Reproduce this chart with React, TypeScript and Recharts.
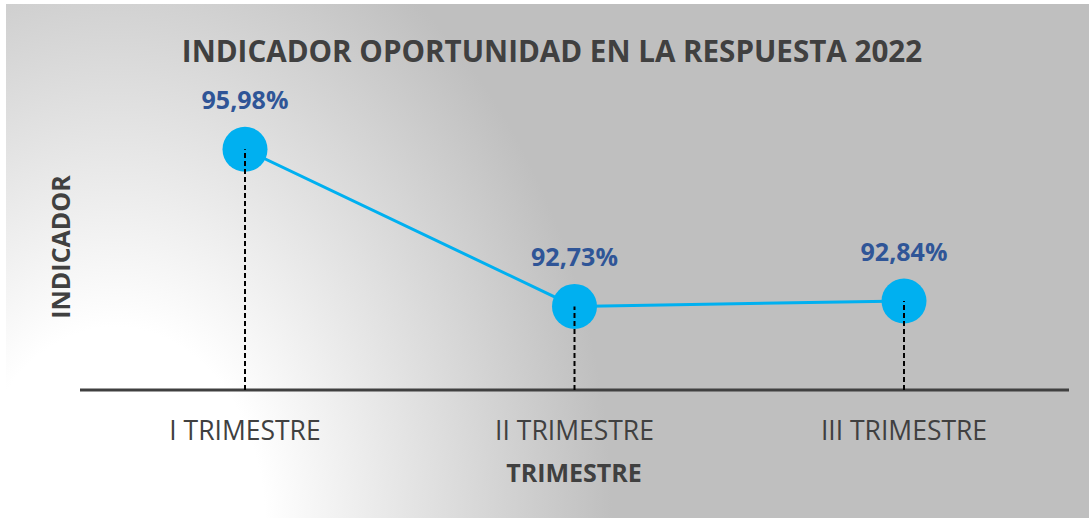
import React from "react";
import { LabelList, Line, LineChart, ReferenceLine, XAxis, YAxis } from "recharts";

const categories = ["I TRIMESTRE", "II TRIMESTRE", "III TRIMESTRE"];
const values = [95.98, 92.73, 92.84];
const valueLabels = ["95,98%", "92,73%", "92,84%"];
const yDomain = [91, 97];

const data = categories.map((name, i) => ({ name, value: values[i], label: valueLabels[i] }));

const FONT = "'Open Sans', 'Noto Sans', sans-serif";
const TEXT = "#404040";
const LINE = "#00B0F0";
const LABEL = "#2F5597";

function CategoryTick(props: any) {
  const { x, y, payload } = props;
  return (
    <text x={x} y={y + 32} textAnchor="middle" dominantBaseline="central" fill={TEXT} fontFamily={FONT} fontSize={26.5}>
      {payload.value}
    </text>
  );
}

export default function App() {
  return (
    <div style={{ position: "absolute", left: 0, top: 0, width: 1089, height: 518, background: "#fff" }}>
      <div
        style={{
          position: "absolute",
          left: 6,
          top: 4,
          width: 1083,
          height: 514,
          background:
            "radial-gradient(ellipse 620px 820px at 110px 520px, #ffffff 0%, #ffffff 24%, #bfbfbf 80%)",
        }}
      />
      <div style={{ position: "absolute", left: 0, top: 0 }}>
        <LineChart width={1089} height={518} data={data} margin={{ top: 100, right: 20, bottom: 98, left: 80 }}>
          <XAxis
            dataKey="name"
            height={30}
            axisLine={{ stroke: TEXT, strokeWidth: 3 }}
            tickLine={false}
            tick={<CategoryTick />}
            padding={{ left: 165, right: 165 }}
            interval={0}
          />
          <YAxis hide domain={yDomain} width={0} />
          <Line
            dataKey="value"
            stroke={LINE}
            strokeWidth={3}
            dot={{ r: 22.5, fill: LINE, stroke: "none" }}
            activeDot={false}
            isAnimationActive={false}
          >
            <LabelList
              dataKey="label"
              position="top"
              offset={40}
              fill={LABEL}
              fontFamily={FONT}
              fontWeight={700}
              fontSize={25}
            />
          </Line>
          {data.map((d) => (
            <ReferenceLine
              key={d.name}
              segment={[
                { x: d.name, y: yDomain[0] },
                { x: d.name, y: d.value },
              ]}
              stroke="#000"
              strokeWidth={2}
              strokeDasharray="5 3"
              zIndex={1000}
            />
          ))}
        </LineChart>
      </div>
      <svg width={1089} height={518} style={{ position: "absolute", left: 0, top: 0, pointerEvents: "none" }}>
        <text x={552} y={50} textAnchor="middle" dominantBaseline="central" fill={TEXT} fontFamily={FONT} fontWeight={700} fontSize={29.6}>
          INDICADOR OPORTUNIDAD EN LA RESPUESTA 2022
        </text>
        <text
          x={60}
          y={247}
          textAnchor="middle"
          dominantBaseline="central"
          fill={TEXT}
          fontFamily={FONT}
          fontWeight={700}
          fontSize={25}
          transform="rotate(-90 60 247)"
        >
          INDICADOR
        </text>
        <text x={574} y={472} textAnchor="middle" dominantBaseline="central" fill={TEXT} fontFamily={FONT} fontWeight={700} fontSize={25}>
          TRIMESTRE
        </text>
      </svg>
    </div>
  );
}
